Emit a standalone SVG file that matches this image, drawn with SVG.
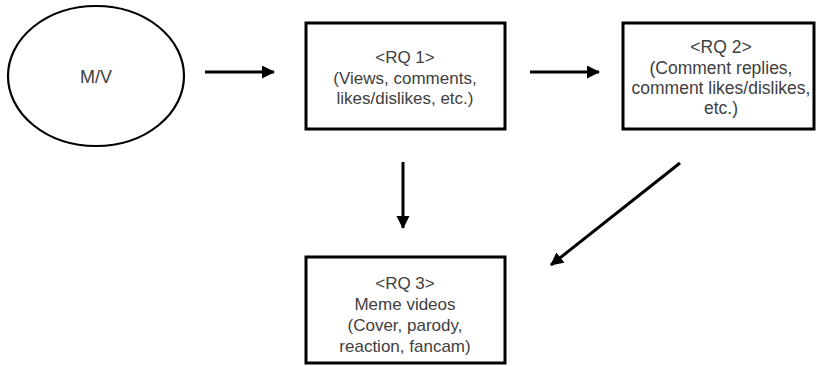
<svg xmlns="http://www.w3.org/2000/svg" width="817" height="366" viewBox="0 0 817 366">
<style>
.box{fill:#fff;stroke:#000;stroke-width:3}
.ell{fill:#fff;stroke:#000;stroke-width:2.2}
.t{font-family:"Liberation Sans",Arial,sans-serif;font-size:17px;fill:#404040;text-anchor:middle}
.big{font-size:17.5px}
.c{stroke:#000;stroke-width:3;fill:none;marker-end:url(#ah)}
</style>
<defs>
<marker id="ah" markerUnits="userSpaceOnUse" markerWidth="14" markerHeight="14" refX="12" refY="6.5" orient="auto">
<path d="M0,0 L13,6.5 L0,13 Z" fill="#000"/>
</marker>
</defs>
<rect width="817" height="366" fill="#fff"/>
<g id="mv">
<ellipse class="ell" cx="96" cy="76" rx="88" ry="70"/>
<text class="t" x="96" y="83" style="font-size:18px">M/V</text>
</g>
<g id="rq1">
<rect class="box" x="306" y="23" width="199" height="106"/>
<text class="t" x="405" y="63">&lt;RQ 1&gt;</text>
<text class="t" x="405" y="84">(Views, comments,</text>
<text class="t" x="405" y="104">likes/dislikes, etc.)</text>
</g>
<g id="rq2">
<rect class="box" x="623" y="23" width="191" height="106"/>
<text class="t big" x="721" y="53">&lt;RQ 2&gt;</text>
<text class="t big" x="721" y="74">(Comment replies,</text>
<text class="t big" x="721" y="94">comment likes/dislikes,</text>
<text class="t big" x="721" y="114">etc.)</text>
</g>
<g id="rq3">
<rect class="box" x="306" y="257" width="199" height="106"/>
<text class="t" x="405" y="289">&lt;RQ 3&gt;</text>
<text class="t" x="405" y="310">Meme videos</text>
<text class="t" x="405" y="331">(Cover, parody,</text>
<text class="t" x="405" y="352">reaction, fancam)</text>
</g>
<g id="connectors">
<line class="c" x1="205" y1="72" x2="274" y2="72"/>
<line class="c" x1="530" y1="72" x2="599" y2="72"/>
<line class="c" x1="403" y1="162" x2="403" y2="228"/>
<line class="c" x1="680" y1="163" x2="551" y2="265"/>
</g>
</svg>
